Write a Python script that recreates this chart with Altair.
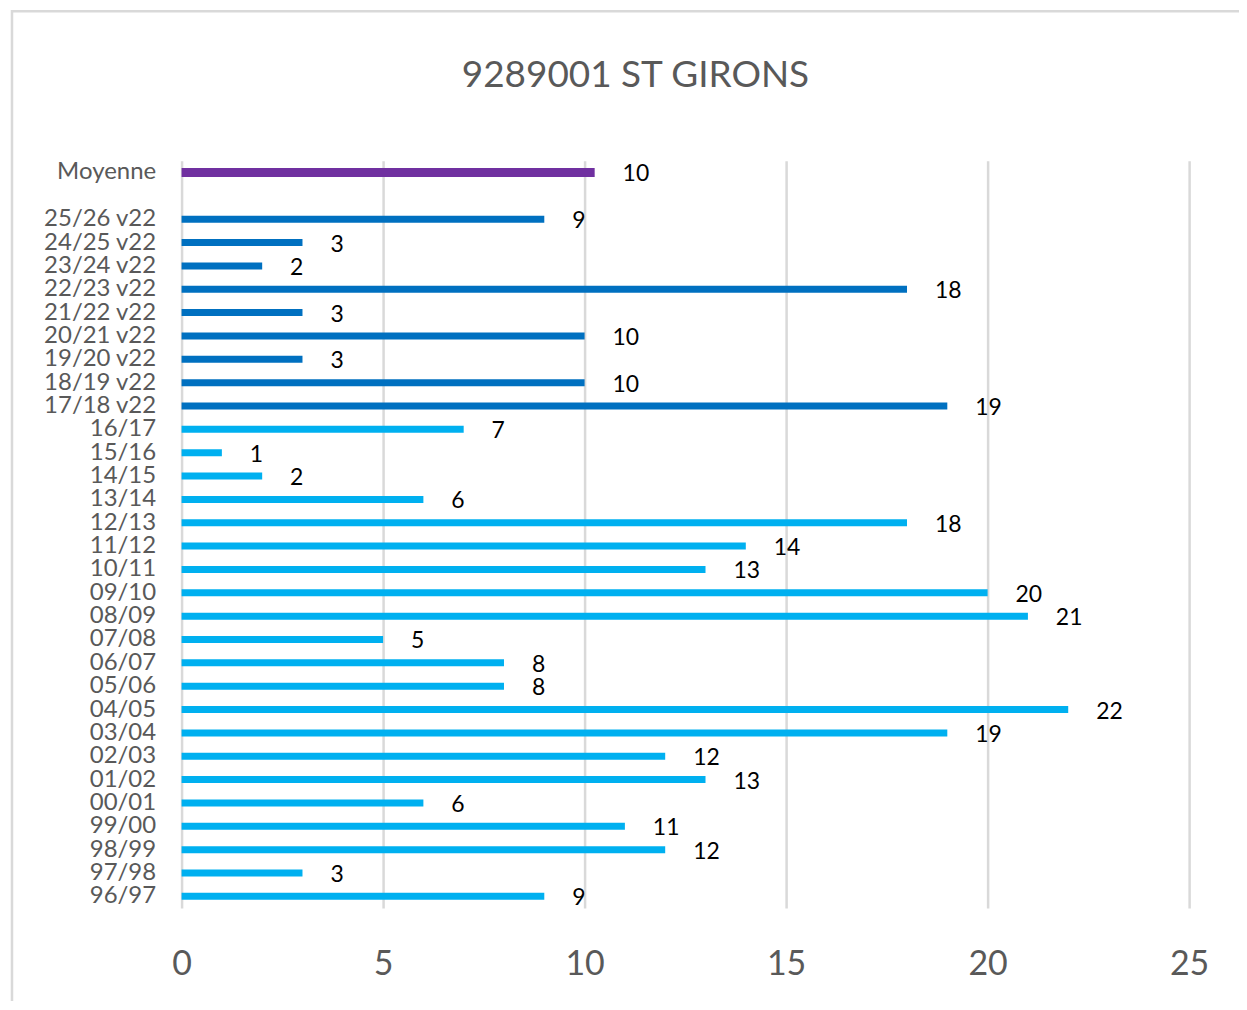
import altair as alt
import pandas as pd

title_text = "9289001 ST GIRONS"
categories = ["Moyenne", " ",
              "25/26 v22", "24/25 v22", "23/24 v22", "22/23 v22", "21/22 v22",
              "20/21 v22", "19/20 v22", "18/19 v22", "17/18 v22",
              "16/17", "15/16", "14/15", "13/14", "12/13", "11/12", "10/11",
              "09/10", "08/09", "07/08", "06/07", "05/06", "04/05", "03/04",
              "02/03", "01/02", "00/01", "99/00", "98/99", "97/98", "96/97"]
values = [10.25, None,
          9, 3, 2, 18, 3, 10, 3, 10, 19,
          7, 1, 2, 6, 18, 14, 13, 20, 21, 5, 8, 8, 22, 19, 12, 13, 6, 11, 12, 3, 9]
groups = ["moy", "none"] + ["v22"] * 9 + ["old"] * 21

df = pd.DataFrame({"cat": categories, "val": values, "grp": groups})
df = df[df["grp"] != "none"]

color_scale = alt.Scale(domain=["moy", "v22", "old"],
                        range=["#7030A0", "#0070C0", "#00B0F0"])

y_enc = alt.Y("cat:N", sort=categories,
              scale=alt.Scale(domain=categories, paddingInner=0, paddingOuter=0),
              axis=alt.Axis(title=None, ticks=False, domain=False, grid=False,
                            labelFontSize=24, labelColor="#595959", labelFont="Lato",
                            labelPadding=26, labelAlign="right"))
x_enc = alt.X("val:Q", scale=alt.Scale(domain=[0, 25], nice=False),
              axis=alt.Axis(title=None, values=[0, 5, 10, 15, 20, 25], ticks=False,
                            domain=False, labelFontSize=34, labelColor="#595959",
                            labelFont="Lato", labelPadding=40, labelFlush=False,
                            gridColor="#D9D9D9", gridWidth=2.5))

base = alt.Chart(df)

bars = base.transform_filter(alt.datum.grp != "moy").mark_bar(height=7).encode(
    y=y_enc, x=x_enc,
    color=alt.Color("grp:N", scale=color_scale, legend=None),
)
moy_bar = base.transform_filter(alt.datum.grp == "moy").mark_bar(height=9).encode(
    y=y_enc, x=x_enc,
    color=alt.Color("grp:N", scale=color_scale, legend=None),
)
labels = base.mark_text(align="left", baseline="middle", dx=28, dy=2,
                        fontSize=23, font="Lato", color="#000000").encode(
    y=y_enc, x=x_enc,
    text=alt.Text("val:Q", format=".0f"),
)
frame = alt.Chart(pd.DataFrame({"a": [0]})).mark_rect(
    fill=None, stroke="#D9D9D9", strokeWidth=2.5, clip=False).encode(
    x=alt.value(-170), x2=alt.value(1080),
    y=alt.value(-150), y2=alt.value(880),
)
title = alt.Chart(pd.DataFrame({"t": [title_text]})).mark_text(
    fontSize=37, font="Lato", color="#595959", align="center", baseline="middle").encode(
    text="t:N", x=alt.value(455), y=alt.value(-85),
)

chart = alt.layer(frame, bars, moy_bar, labels, title).properties(
    width=1010, height=749,
    autosize=alt.AutoSizeParams(type="none"),
    padding={"left": 174, "top": 152, "right": 50, "bottom": 92},
).configure(background="white", view=alt.ViewConfig(stroke=None))

chart.save("out.html", embed_options={"renderer": "svg", "actions": False})
